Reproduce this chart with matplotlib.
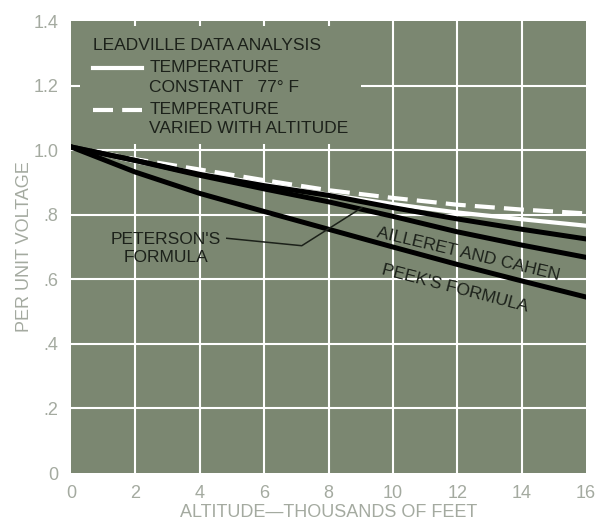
import matplotlib.pyplot as plt
from matplotlib.patches import Rectangle

plt.rcParams['font.family'] = ['Liberation Sans', 'DejaVu Sans']

altitude = [0, 2, 4, 6, 8, 10, 12, 14, 16]
temp_varied = [1.01, 0.972, 0.94, 0.907, 0.876, 0.852, 0.831, 0.816, 0.804]
temp_const = [1.01, 0.965, 0.928, 0.895, 0.862, 0.833, 0.807, 0.786, 0.766]
peterson = [1.01, 0.968, 0.925, 0.89, 0.86, 0.822, 0.787, 0.755, 0.725]
ailleret = [1.01, 0.968, 0.922, 0.88, 0.84, 0.795, 0.747, 0.706, 0.668]
peek = [1.01, 0.932, 0.866, 0.81, 0.755, 0.70, 0.646, 0.595, 0.545]

xticks = [0, 2, 4, 6, 8, 10, 12, 14, 16]
yticks = [0, 0.2, 0.4, 0.6, 0.8, 1.0, 1.2, 1.4]
ytick_labels = ['0', '.2', '.4', '.6', '.8', '1.0', '1.2', '1.4']

bg = '#7b8771'
gray = '#a4aaa0'
ink = '#1c211a'

fig = plt.figure(figsize=(5.95, 5.23), dpi=100)
ax = fig.add_axes([71/595, 1-473/523, 515/595, 452/523])
ax.set_facecolor(bg)
for s in ax.spines.values():
    s.set_visible(False)

ax.set_xlim(0, 16)
ax.set_ylim(0, 1.4)
ax.set_xticks(xticks)
ax.set_yticks(yticks)
ax.set_yticklabels(ytick_labels)
ax.tick_params(length=0, colors=gray, labelsize=13, pad=9)
ax.grid(True, color='white', lw=1.5)
gl = ax.get_xgridlines()
gl[0].set_visible(False); gl[-1].set_visible(False)
gl = ax.get_ygridlines()
gl[0].set_visible(False); gl[-1].set_visible(False)
ax.set_axisbelow(True)

ax.set_xlabel('ALTITUDE\u2014THOUSANDS OF FEET', color=gray, fontsize=13, labelpad=1)
ax.set_ylabel('PER UNIT VOLTAGE', color=gray, fontsize=13, labelpad=0)

# legend panel hides the grid
ax.add_patch(Rectangle((0.018, 0.727), 0.545, 0.263, transform=ax.transAxes,
                       facecolor=bg, edgecolor='none', zorder=1.5))

ax.plot(altitude, temp_varied, color='white', lw=3, dashes=(4.8, 2.2), zorder=3)
ax.plot(altitude, temp_const, color='white', lw=3, zorder=3)
ax.plot(altitude, peterson, color='black', lw=3.6, zorder=4)
ax.plot(altitude, ailleret, color='black', lw=3.6, zorder=4)
ax.plot(altitude, peek, color='black', lw=3.6, zorder=4)

fs = 12.5
ax.text(0.043, 0.945, 'LEADVILLE DATA ANALYSIS', transform=ax.transAxes,
        color=ink, fontsize=fs, va='center', ha='left', zorder=5)
ax.plot([0.043, 0.138], [0.897, 0.897], transform=ax.transAxes, color='white', lw=3, zorder=5)
ax.text(0.152, 0.897, 'TEMPERATURE', transform=ax.transAxes,
        color=ink, fontsize=fs, va='center', ha='left', zorder=5)
ax.text(0.152, 0.853, 'CONSTANT   77\u00b0 F', transform=ax.transAxes,
        color=ink, fontsize=fs, va='center', ha='left', zorder=5)
ax.plot([0.043, 0.138], [0.804, 0.804], transform=ax.transAxes, color='white', lw=3,
        dashes=(4.8, 2.2), zorder=5)
ax.text(0.152, 0.804, 'TEMPERATURE', transform=ax.transAxes,
        color=ink, fontsize=fs, va='center', ha='left', zorder=5)
ax.text(0.152, 0.762, 'VARIED WITH ALTITUDE', transform=ax.transAxes,
        color=ink, fontsize=fs, va='center', ha='left', zorder=5)

ax.text(2.95, 0.695, "PETERSON'S\nFORMULA", color=ink, fontsize=fs, ha='center',
        va='center', linespacing=1.3, zorder=5)
ax.plot([4.84, 7.17, 9.04], [0.727, 0.704, 0.822], color=ink, lw=1.1, zorder=5)

ax.text(12.33, 0.677, 'AILLERET AND CAHEN', color=ink, fontsize=fs, ha='center',
        va='center', rotation=-13.3, rotation_mode='anchor', zorder=5)
ax.text(11.93, 0.571, "PEEK'S FORMULA", color=ink, fontsize=fs, ha='center',
        va='center', rotation=-14.5, rotation_mode='anchor', zorder=5)

fig.savefig('out.png', dpi=100)
